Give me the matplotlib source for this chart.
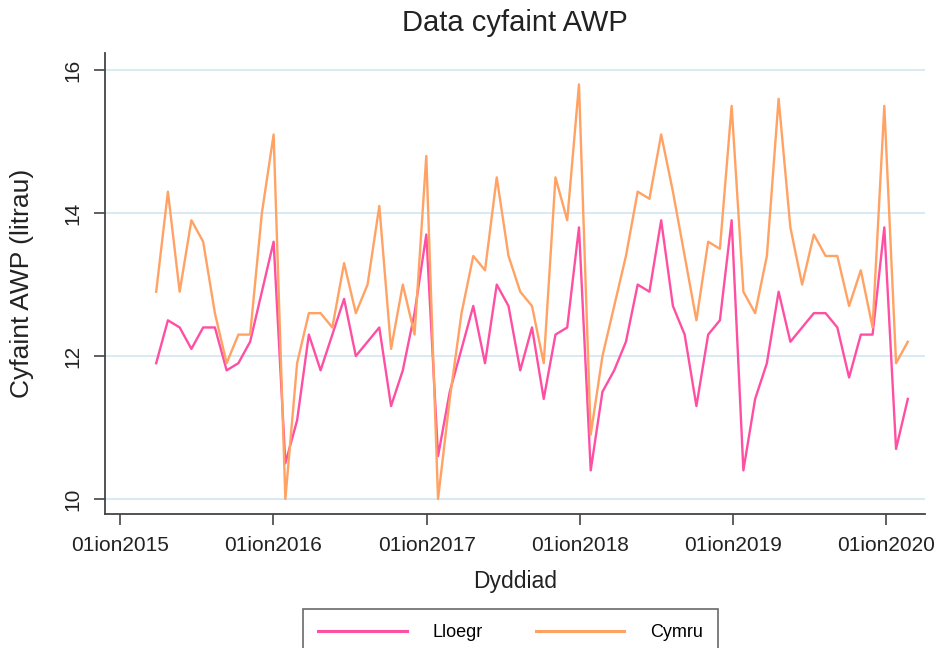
import matplotlib
matplotlib.use("Agg")
import matplotlib.pyplot as plt
import matplotlib.dates as mdates
import numpy as np

plt.rcParams['font.family'] = ['Liberation Sans', 'DejaVu Sans']

# 4-weekly periods, starting late March 2015
dates = np.datetime64('2015-03-28') + np.arange(65) * np.timedelta64(28, 'D')

lloegr = [11.9, 12.5, 12.4, 12.1, 12.4, 12.4, 11.8, 11.9, 12.2, 12.9,
          13.6, 10.5, 11.1, 12.3, 11.8, 12.3, 12.8, 12.0, 12.2, 12.4,
          11.3, 11.8, 12.6, 13.7, 10.6, 11.5, 12.1, 12.7, 11.9, 13.0,
          12.7, 11.8, 12.4, 11.4, 12.3, 12.4, 13.8, 10.4, 11.5, 11.8,
          12.2, 13.0, 12.9, 13.9, 12.7, 12.3, 11.3, 12.3, 12.5, 13.9,
          10.4, 11.4, 11.9, 12.9, 12.2, 12.4, 12.6, 12.6, 12.4, 11.7,
          12.3, 12.3, 13.8, 10.7, 11.4]

cymru = [12.9, 14.3, 12.9, 13.9, 13.6, 12.6, 11.9, 12.3, 12.3, 14.0,
         15.1, 10.0, 11.9, 12.6, 12.6, 12.4, 13.3, 12.6, 13.0, 14.1,
         12.1, 13.0, 12.3, 14.8, 10.0, 11.4, 12.6, 13.4, 13.2, 14.5,
         13.4, 12.9, 12.7, 11.9, 14.5, 13.9, 15.8, 10.9, 12.0, 12.7,
         13.4, 14.3, 14.2, 15.1, 14.3, 13.4, 12.5, 13.6, 13.5, 15.5,
         12.9, 12.6, 13.4, 15.6, 13.8, 13.0, 13.7, 13.4, 13.4, 12.7,
         13.2, 12.4, 15.5, 11.9, 12.2]

years = [2015, 2016, 2017, 2018, 2019, 2020]
yticks = [10, 12, 14, 16]

fig = plt.figure(figsize=(9.36, 6.48), dpi=100)
ax = fig.add_axes([105/936, 1-514/648, 820/936, 461/648])

ax.plot(dates, lloegr, color='#ff4fa3', lw=1.7, label='Lloegr')
ax.plot(dates, cymru, color='#ffa264', lw=1.7, label='Cymru')

ax.set_xlim(np.datetime64('2014-11-26'), np.datetime64('2020-04-03'))
ax.set_ylim(9.79, 16.24)

ax.set_xticks([np.datetime64(f'{y}-01-01') for y in years])
ax.xaxis.set_major_formatter(mdates.DateFormatter('%dion%Y'))
ax.set_yticks(yticks)
ax.set_yticklabels([str(v) for v in yticks], rotation=90, va='center')

ax.grid(axis='y', color='#d8eaf2', lw=1.4)
ax.set_axisbelow(True)
for s in ['top', 'right']:
    ax.spines[s].set_visible(False)
for s in ['left', 'bottom']:
    ax.spines[s].set_color('#444444')
    ax.spines[s].set_linewidth(1.3)
ax.tick_params(axis='both', length=8, width=1.2, color='#444444',
               labelsize=15, labelcolor='#222222', pad=8)

ax.set_xlabel('Dyddiad', fontsize=16.5, color='#222222')
ax.xaxis.set_label_coords(0.5, -0.122)
ax.set_ylabel('Cyfaint AWP (litrau)', fontsize=19, color='#222222')
ax.yaxis.set_label_coords(-0.086, 0.5)

fig.text(515/936, 1-31/648, 'Data cyfaint AWP', fontsize=21,
         ha='center', va='baseline', color='#222222')

leg = fig.legend(loc='upper left', bbox_to_anchor=(303/936, 1-609/648),
                 ncol=2, fontsize=13, frameon=True, fancybox=False,
                 edgecolor='#444444', handlelength=4.9, handletextpad=1.45,
                 columnspacing=2.9, borderpad=0.85, borderaxespad=0)
leg.get_frame().set_linewidth(1.2)
for h in leg.get_lines():
    h.set_linewidth(2.2)

fig.savefig('out.png', dpi=100)
